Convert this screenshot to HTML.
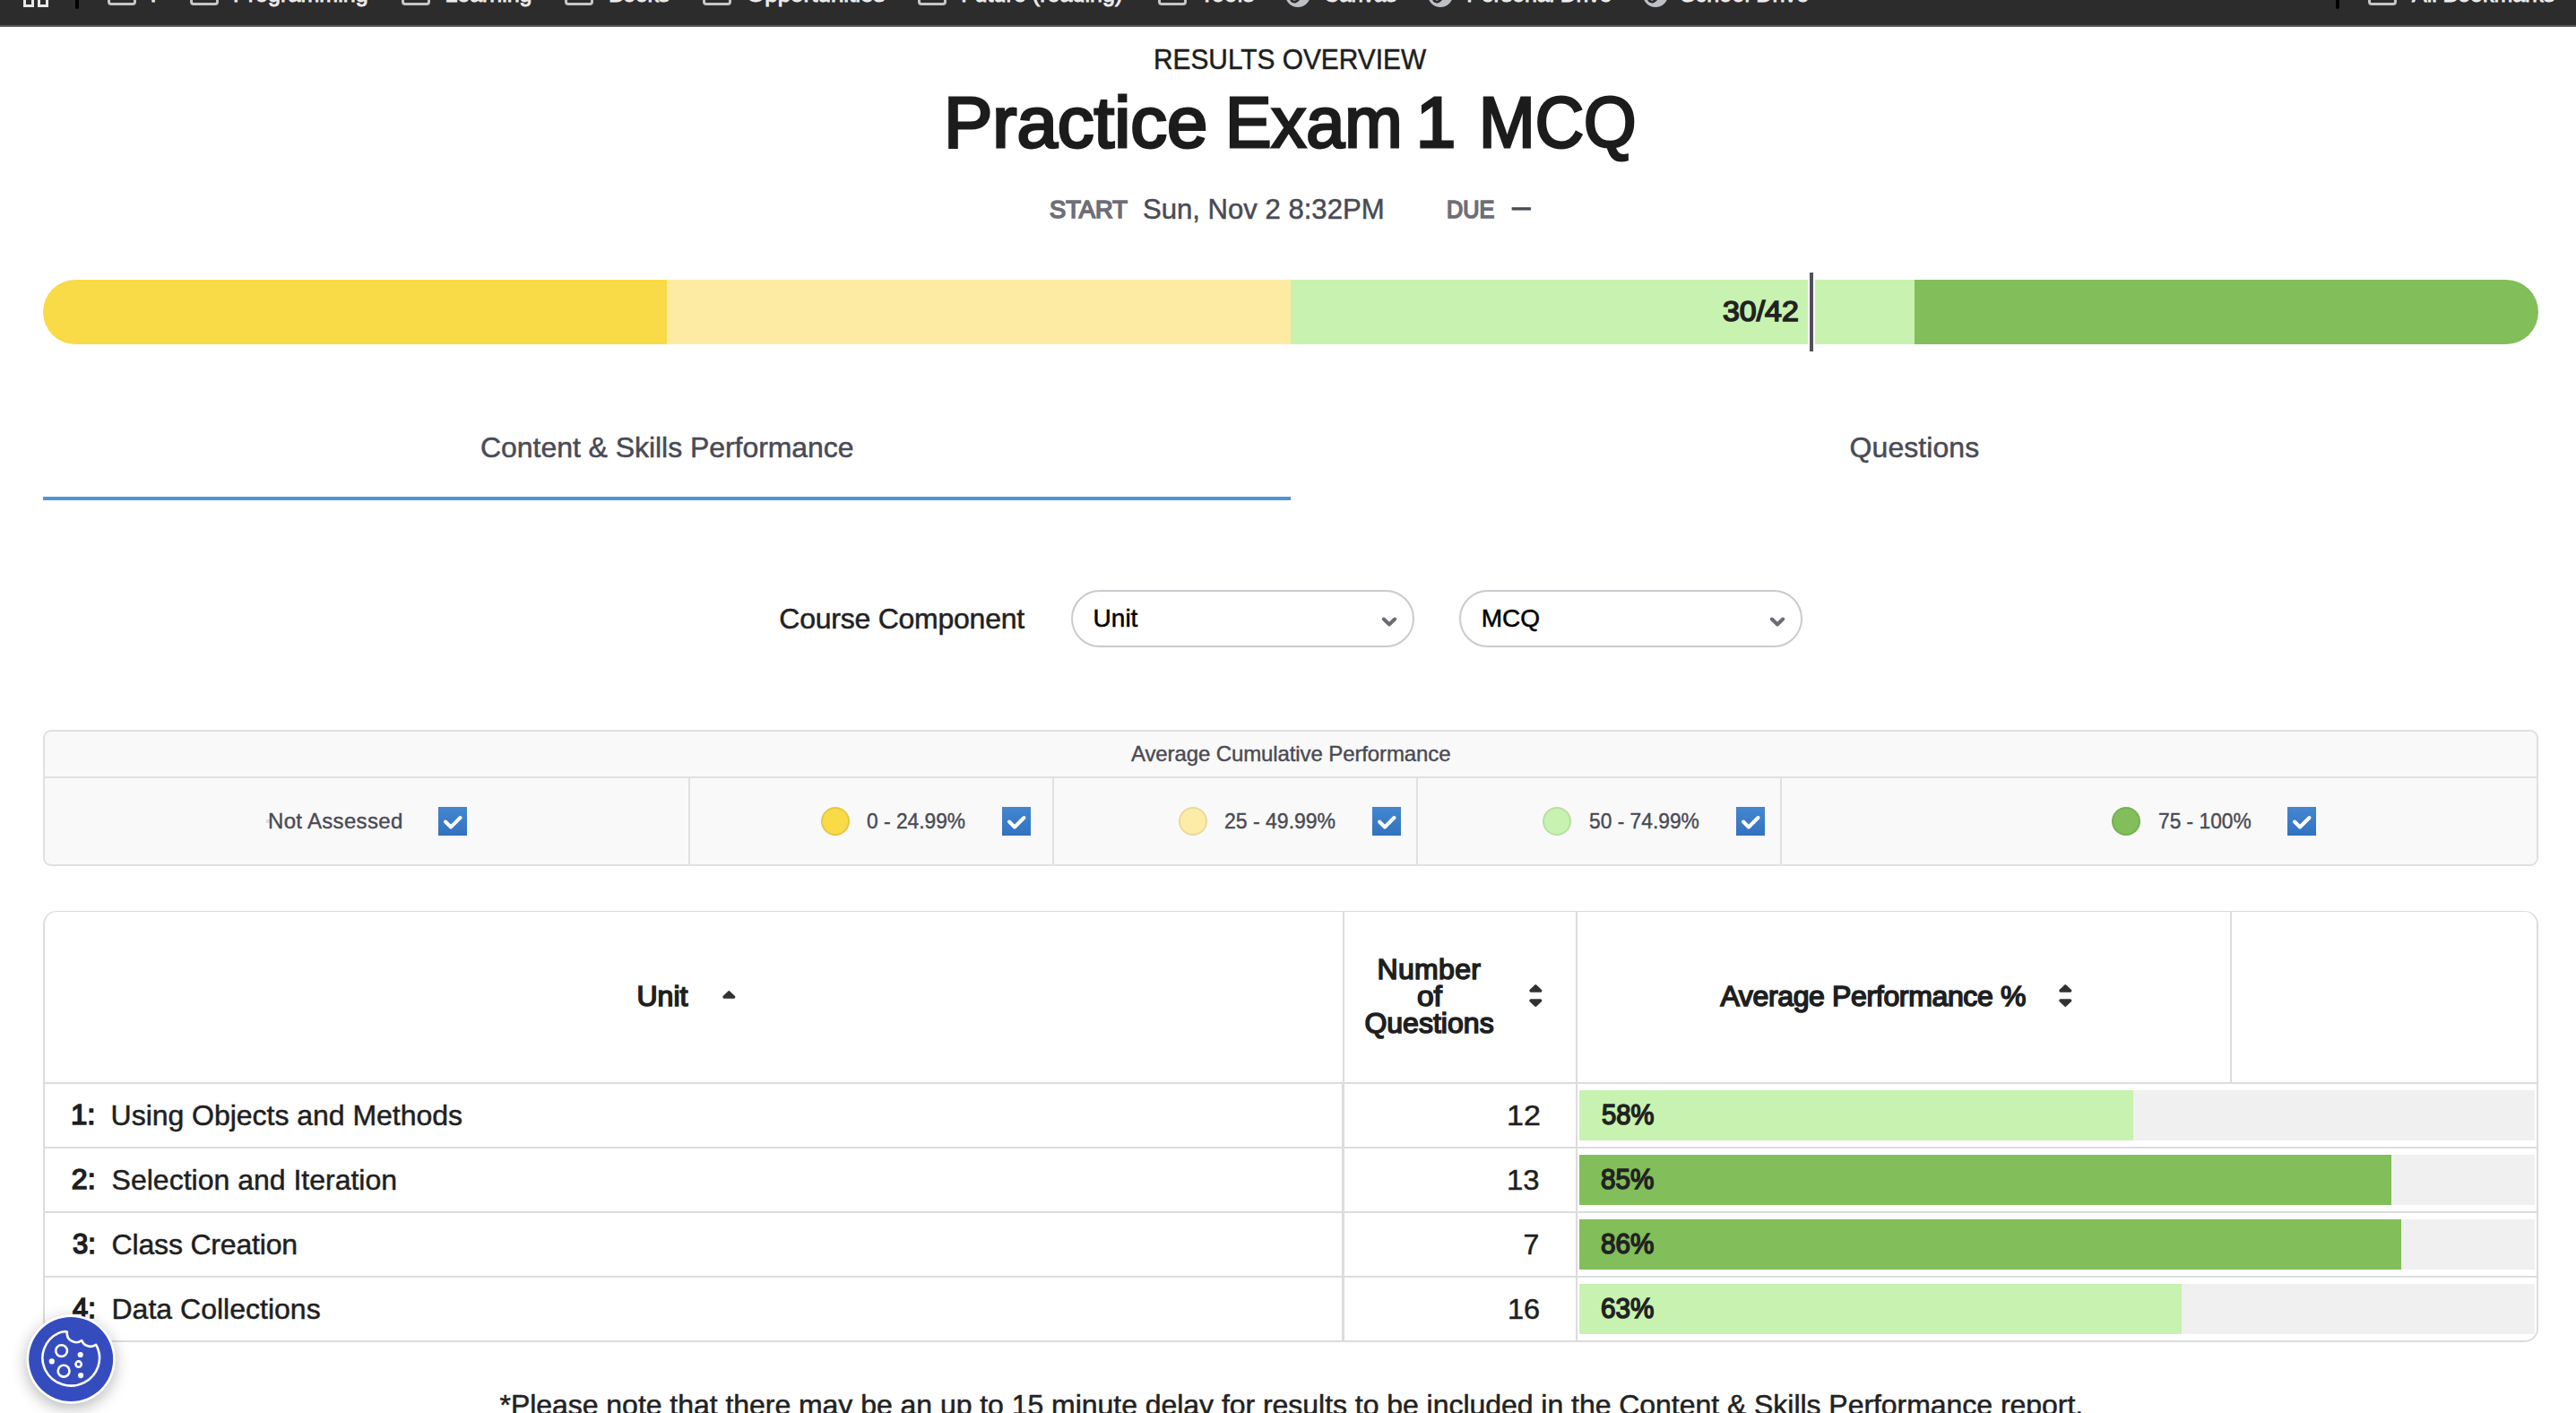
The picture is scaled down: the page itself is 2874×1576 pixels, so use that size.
<!DOCTYPE html>
<html lang="en">
<head>
<meta charset="utf-8">
<title>Practice Exam 1 MCQ - Results Overview</title>
<style>
*{box-sizing:border-box}
html,body{margin:0;padding:0}
@media (max-width:1600px){html{zoom:.5}}
h1,p,header,section,nav.w,table,thead,tbody,tr,th,td{margin:0;padding:0;border:0;font-weight:400;font-size:0;line-height:0}
table{border-collapse:collapse;border-spacing:0;width:0;height:0}
body{width:2874px;height:1576px;overflow:hidden;background:#fff;position:relative;font-family:"Liberation Sans",sans-serif}
.t{position:absolute;white-space:pre;line-height:1;transform-origin:0 0}
.abs{position:absolute}
#bar{left:0;top:0;width:2874px;height:30px;background:#2c2c2c;border-bottom:2px solid #585858;overflow:hidden}
#bar .fo{position:absolute;top:-20px;width:32px;height:26px;border:3px solid #c6c6c6;border-radius:4px}
#bar .gl{position:absolute;top:-20px;width:28px;height:28px;background:#bdc0c7;border-radius:50%}
#bar .gl i{position:absolute;left:5px;top:2px;width:14px;height:22px;border-radius:50%;border:3px solid #2c2c2c;border-left-color:transparent;border-top-color:transparent;transform:rotate(20deg)}
#bar .sep{position:absolute;top:-10px;width:4px;height:20px;background:#000;border-radius:2px}
#prog{left:48px;top:312px;width:2784px;height:72px;border-radius:36px;overflow:hidden;display:flex}
#prog i{display:block;flex:1 1 25%;height:72px}
#marker{left:2017px;top:304px;width:8px;height:88px;background:#fff}
#marker i{position:absolute;left:2px;top:0;width:4px;height:88px;background:#505058}
#tabline{left:48px;top:554px;width:1392px;height:4px;background:#4f95d5}
.sel{top:658px;width:383px;height:64px;border:2px solid #cacad0;border-radius:32px;background:#fff}
.sel svg{position:absolute;right:16.85px;top:27.5px}
#legend{left:48px;top:814px;width:2784px;height:152px;border:2px solid #e0e0e4;border-radius:9px;background:#f9f9f9}
#legend .hl{position:absolute;left:0;top:50px;width:2780px;height:2px;background:#e0e0e4}
#legend .vl{position:absolute;top:52px;width:2px;height:96px;background:#e0e0e4}
.dot{position:absolute;top:900px;width:32px;height:32px;border-radius:50%;border:2px solid rgba(0,0,0,.08)}
.cb{position:absolute;top:900px;width:32px;height:32px;background:linear-gradient(#4486d0,#3272bf)}
.cb svg{position:absolute;left:0;top:0}
#table{left:48px;top:1016px;width:2784px;height:481px;border:2px solid #dcdcdc;border-top-width:1px;border-radius:15px;background:#fff}
.hline{position:absolute;left:50px;width:2780px;height:2px;background:#dcdcdc}
.vline{position:absolute;width:2px;background:#dcdcdc}
.track{position:absolute;left:1762px;width:1066px;height:56px;background:#f0f0f0}
.track i{display:block;height:56px}
#cookie{left:30px;top:1467px;width:98px;height:98px;border-radius:50%;background:#fff;box-shadow:0 5px 18px rgba(0,0,0,.3)}
</style>
</head>
<body>
<nav id="bar" class="abs" aria-label="Bookmarks">
<div class="abs" style="left:26px;top:-6px;width:12px;height:14px;border:3px solid #e8e8e8"></div>
<div class="abs" style="left:42px;top:-6px;width:12px;height:14px;border:3px solid #e8e8e8"></div>
<div class="sep" style="left:84px"></div>
<div class="fo" style="left:120px"></div>
<span class="t" id="b0" style="left:164.5px;top:-19.4px;font-size:25px;color:#ececec;font-weight:400;-webkit-text-stroke:0.9px #ececec">?</span>
<div class="fo" style="left:212px"></div>
<span class="t" id="b1" style="left:260.0px;top:-19.4px;font-size:25px;letter-spacing:0.06px;color:#ececec;font-weight:400;-webkit-text-stroke:0.9px #ececec">Programming</span>
<div class="fo" style="left:448px"></div>
<span class="t" id="b2" style="left:496.4px;top:-19.4px;font-size:25px;letter-spacing:-0.03px;color:#ececec;font-weight:400;-webkit-text-stroke:0.9px #ececec">Learning</span>
<div class="fo" style="left:630px"></div>
<span class="t" id="b3" style="left:679.0px;top:-19.4px;font-size:25px;letter-spacing:-0.35px;color:#ececec;font-weight:400;-webkit-text-stroke:0.9px #ececec">Books</span>
<div class="fo" style="left:784px"></div>
<span class="t" id="b4" style="left:832.5px;top:-19.4px;font-size:25px;color:#ececec;font-weight:400;transform:scaleX(1.0395);-webkit-text-stroke:0.9px #ececec">Opportunities</span>
<div class="fo" style="left:1024px"></div>
<span class="t" id="b5" style="left:1072.3px;top:-19.4px;font-size:25px;letter-spacing:0.05px;color:#ececec;font-weight:400;-webkit-text-stroke:0.9px #ececec">Future (reading)</span>
<div class="fo" style="left:1292px"></div>
<span class="t" id="b6" style="left:1339.0px;top:-19.4px;font-size:25px;letter-spacing:0.45px;color:#ececec;font-weight:400;-webkit-text-stroke:0.9px #ececec">Tools</span>
<div class="gl" style="left:1434px">
<i></i>
</div>
<span class="t" id="b7" style="left:1477.3px;top:-19.4px;font-size:25px;color:#ececec;font-weight:400;transform:scaleX(0.9578);-webkit-text-stroke:0.9px #ececec">Canvas</span>
<div class="gl" style="left:1593px">
<i></i>
</div>
<span class="t" id="b8" style="left:1636.3px;top:-19.4px;font-size:25px;letter-spacing:-0.14px;color:#ececec;font-weight:400;-webkit-text-stroke:0.9px #ececec">Personal Drive</span>
<div class="gl" style="left:1833px">
<i></i>
</div>
<span class="t" id="b9" style="left:1874.8px;top:-19.4px;font-size:25px;letter-spacing:0.15px;color:#ececec;font-weight:400;-webkit-text-stroke:0.9px #ececec">School Drive</span>
<div class="sep" style="left:2606px"></div>
<div class="fo" style="left:2642px"></div>
<span class="t" id="b10" style="left:2691.0px;top:-19.4px;font-size:25px;letter-spacing:-0.04px;color:#ececec;font-weight:400;-webkit-text-stroke:0.9px #ececec">All Bookmarks</span></nav>
<header>
<span class="t" id="ro" style="left:1287.1px;top:49.8px;font-size:32px;color:#1e1e1e;font-weight:400;transform:scaleX(0.9327);-webkit-text-stroke:0.5px #1e1e1e">RESULTS OVERVIEW</span>
<h1>
<span class="t" id="tw0" style="left:1052.9px;top:96.5px;font-size:80px;color:#1c1c1c;font-weight:400;transform:scaleX(1.0188);-webkit-text-stroke:3px #1c1c1c">Practice</span> <span class="t" id="tw1" style="left:1366.9px;top:96.5px;font-size:80px;color:#1c1c1c;font-weight:400;transform:scaleX(0.9663);-webkit-text-stroke:3px #1c1c1c">Exam</span> <span class="t" id="tw2" style="left:1579.8px;top:96.5px;font-size:80px;color:#1c1c1c;font-weight:400;-webkit-text-stroke:3px #1c1c1c">1</span> <span class="t" id="tw3" style="left:1650.2px;top:96.5px;font-size:80px;color:#1c1c1c;font-weight:400;transform:scaleX(0.9406);-webkit-text-stroke:3px #1c1c1c">MCQ</span>
</h1>
<p class="w">
<span class="t" id="start" style="left:1171.4px;top:219.9px;font-size:28px;color:#6e6e78;font-weight:400;transform:scaleX(0.9730);-webkit-text-stroke:1.7px #6e6e78">START</span> <span class="t" id="date" style="left:1275.0px;top:216.9px;font-size:32px;color:#4a4a54;font-weight:400;transform:scaleX(0.9715);-webkit-text-stroke:0.5px #4a4a54">Sun, Nov 2 8:32PM</span> <span class="t" id="due" style="left:1614.1px;top:219.9px;font-size:28px;color:#6e6e78;font-weight:400;transform:scaleX(0.9000);-webkit-text-stroke:1.7px #6e6e78">DUE</span> <span class="t" id="dash" style="left:1686.6px;top:213.7px;font-size:32px;color:#4a4a54;transform:scaleX(.64);-webkit-text-stroke:1.1px #4a4a54">—</span>
</p>
</header>
<section class="w" aria-label="Score">
<div id="prog" class="abs">
<i style="background:#f9da47"></i>
<i style="background:#fdeba3"></i>
<i style="background:#c8f2b0"></i>
<i style="background:#82be5a"></i>
</div>
<div id="marker" class="abs">
<i></i>
</div>
<span class="t" id="score" style="left:1922.2px;top:331.3px;font-size:32px;color:#222;font-weight:400;transform:scaleX(1.0582);-webkit-text-stroke:1.6px #222">30/42</span></section>
<nav class="w" aria-label="Report tabs">
<span class="t" id="tab1" style="left:536.0px;top:483.0px;font-size:32px;letter-spacing:-0.05px;color:#4a4a54;font-weight:400;-webkit-text-stroke:0.5px #4a4a54">Content &amp; Skills Performance</span> <span class="t" id="tab2" style="left:2063.6px;top:483.0px;font-size:32px;letter-spacing:0.06px;color:#4a4a54;font-weight:400;-webkit-text-stroke:0.5px #4a4a54">Questions</span>
<div id="tabline" class="abs"></div>
</nav>
<section class="w" aria-label="Filters">
<span class="t" id="cc" style="left:869.3px;top:674.3px;font-size:32px;letter-spacing:-0.24px;color:#222;font-weight:400;-webkit-text-stroke:0.5px #222">Course Component</span>
<div class="sel abs" style="left:1195px">
<svg width="18" height="12" viewBox="0 0 18 12">
<path d="M2.85 2.5 L9 8.5 L15.15 2.5" fill="none" stroke="#6c6c76" stroke-width="4" stroke-linecap="round" stroke-linejoin="round"/>
</svg></div>
<span class="t" id="sel1" style="left:1219.6px;top:675.7px;font-size:28px;color:#000;font-weight:400;-webkit-text-stroke:0.5px #000">Unit</span>
<div class="sel abs" style="left:1628px">
<svg width="18" height="12" viewBox="0 0 18 12">
<path d="M2.85 2.5 L9 8.5 L15.15 2.5" fill="none" stroke="#6c6c76" stroke-width="4" stroke-linecap="round" stroke-linejoin="round"/>
</svg></div>
<span class="t" id="sel2" style="left:1652.7px;top:676.0px;font-size:28px;color:#000;font-weight:400;-webkit-text-stroke:0.5px #000">MCQ</span></section>
<section class="w" aria-label="Legend">
<div id="legend" class="abs">
<div class="hl"></div>
<div class="vl" style="left:718px"></div>
<div class="vl" style="left:1124px"></div>
<div class="vl" style="left:1530px"></div>
<div class="vl" style="left:1936px"></div>
</div>
<span class="t" id="acp" style="left:1262.0px;top:828.5px;font-size:24px;letter-spacing:-0.11px;color:#4a4a54;font-weight:400;-webkit-text-stroke:0.4px #4a4a54">Average Cumulative Performance</span>
<div class="abs" style="left:297px;top:914px;width:4px;height:4px;background:#dcdcdc"></div>
<span class="t" id="na" style="left:299.0px;top:903.7px;font-size:24px;letter-spacing:0.32px;color:#4a4a54;font-weight:400;-webkit-text-stroke:0.4px #4a4a54">Not Assessed</span>
<div class="cb" style="left:489px">
<svg width="32" height="32" viewBox="0 0 32 32">
<path d="M8 16.5 L14 22.5 L24.5 12" fill="none" stroke="#fff" stroke-width="4" stroke-linecap="round" stroke-linejoin="round"/>
</svg></div>
<div class="dot" style="left:916px;background:#f9da47"></div>
<span class="t" id="l1" style="left:967.4px;top:903.7px;font-size:24px;color:#4a4a54;font-weight:400;transform:scaleX(0.9487);-webkit-text-stroke:0.4px #4a4a54">0 - 24.99%</span>
<div class="cb" style="left:1118px">
<svg width="32" height="32" viewBox="0 0 32 32">
<path d="M8 16.5 L14 22.5 L24.5 12" fill="none" stroke="#fff" stroke-width="4" stroke-linecap="round" stroke-linejoin="round"/>
</svg></div>
<div class="dot" style="left:1315px;background:#fdeca8"></div>
<span class="t" id="l2" style="left:1366.3px;top:903.7px;font-size:24px;color:#4a4a54;font-weight:400;transform:scaleX(0.9586);-webkit-text-stroke:0.4px #4a4a54">25 - 49.99%</span>
<div class="cb" style="left:1531px">
<svg width="32" height="32" viewBox="0 0 32 32">
<path d="M8 16.5 L14 22.5 L24.5 12" fill="none" stroke="#fff" stroke-width="4" stroke-linecap="round" stroke-linejoin="round"/>
</svg></div>
<div class="dot" style="left:1721px;background:#c8f2b0"></div>
<span class="t" id="l3" style="left:1773.4px;top:903.7px;font-size:24px;color:#4a4a54;font-weight:400;transform:scaleX(0.9492);-webkit-text-stroke:0.4px #4a4a54">50 - 74.99%</span>
<div class="cb" style="left:1937px">
<svg width="32" height="32" viewBox="0 0 32 32">
<path d="M8 16.5 L14 22.5 L24.5 12" fill="none" stroke="#fff" stroke-width="4" stroke-linecap="round" stroke-linejoin="round"/>
</svg></div>
<div class="dot" style="left:2356px;background:#82be5a"></div>
<span class="t" id="l4" style="left:2407.8px;top:903.7px;font-size:24px;color:#4a4a54;font-weight:400;transform:scaleX(0.9472);-webkit-text-stroke:0.4px #4a4a54">75 - 100%</span>
<div class="cb" style="left:2552px">
<svg width="32" height="32" viewBox="0 0 32 32">
<path d="M8 16.5 L14 22.5 L24.5 12" fill="none" stroke="#fff" stroke-width="4" stroke-linecap="round" stroke-linejoin="round"/>
</svg></div>
</section>
<div id="table" class="abs"></div>
<div class="hline" style="top:1207px"></div>
<div class="hline" style="top:1279px"></div>
<div class="hline" style="top:1351px"></div>
<div class="hline" style="top:1423px"></div>
<div class="vline" style="left:1498px;top:1017px;height:190px"></div>
<div class="vline" style="left:1497px;top:1209px;height:286px;width:3px"></div>
<div class="vline" style="left:1758px;top:1017px;height:478px"></div>
<div class="vline" style="left:2488px;top:1017px;height:190px"></div>
<table>
<thead>
<tr>
<th>
<span class="t" id="thu" style="left:710.5px;top:1095.4px;font-size:32px;color:#1f1f1f;font-weight:400;-webkit-text-stroke:1.6px #1f1f1f">Unit</span>
<svg class="abs" style="left:805.6px;top:1104.8px" width="15" height="9" viewBox="0 0 15 9">
<path d="M7.3 1.9 L12.6 7 L2 7 Z" fill="#323235" stroke="#323235" stroke-width="3.4" stroke-linejoin="round"/>
</svg></th>
<th>
<span class="t" id="thn1" style="left:1536.5px;top:1065.2px;font-size:32px;letter-spacing:0.34px;color:#1f1f1f;font-weight:400;-webkit-text-stroke:1.6px #1f1f1f">Number</span> <span class="t" id="thn2" style="left:1581.0px;top:1094.8px;font-size:32px;color:#1f1f1f;font-weight:400;transform:scaleX(1.0464);-webkit-text-stroke:1.6px #1f1f1f">of</span> <span class="t" id="thn3" style="left:1522.4px;top:1124.6px;font-size:32px;letter-spacing:0.02px;color:#1f1f1f;font-weight:400;-webkit-text-stroke:1.6px #1f1f1f">Questions</span>
<svg class="abs" style="left:1705.6px;top:1098px" width="15" height="9" viewBox="0 0 15 9">
<path d="M7.3 1.9 L12.6 7 L2 7 Z" fill="#323235" stroke="#323235" stroke-width="3.4" stroke-linejoin="round"/>
</svg>
<svg class="abs" style="left:1705.6px;top:1114.2px" width="15" height="9" viewBox="0 0 15 9">
<path d="M7.3 7.1 L12.6 2 L2 2 Z" fill="#323235" stroke="#323235" stroke-width="3.4" stroke-linejoin="round"/>
</svg></th>
<th>
<span class="t" id="tha" style="left:1919.4px;top:1095.2px;font-size:32px;letter-spacing:-0.35px;color:#1f1f1f;font-weight:400;-webkit-text-stroke:1.6px #1f1f1f">Average Performance %</span>
<svg class="abs" style="left:2296.6px;top:1098px" width="15" height="9" viewBox="0 0 15 9">
<path d="M7.3 1.9 L12.6 7 L2 7 Z" fill="#323235" stroke="#323235" stroke-width="3.4" stroke-linejoin="round"/>
</svg>
<svg class="abs" style="left:2296.6px;top:1114.2px" width="15" height="9" viewBox="0 0 15 9">
<path d="M7.3 7.1 L12.6 2 L2 2 Z" fill="#323235" stroke="#323235" stroke-width="3.4" stroke-linejoin="round"/>
</svg></th>
<th></th>
</tr>
</thead>
<tbody>
<tr>
<td>
<span class="t" id="n0" style="left:79.2px;top:1226.8px;font-size:32px;color:#1f1f1f;font-weight:400;transform:scaleX(1.0304);-webkit-text-stroke:1.6px #1f1f1f">1:</span> <span class="t" id="u0" style="left:123.6px;top:1227.8px;font-size:32px;letter-spacing:-0.03px;color:#1f1f1f;font-weight:400;-webkit-text-stroke:0.5px #1f1f1f">Using Objects and Methods</span></td>
<td>
<span class="t" id="c0" style="left:1681.4px;top:1227.8px;font-size:32px;color:#1f1f1f;font-weight:400;transform:scaleX(1.0625);-webkit-text-stroke:0.5px #1f1f1f">12</span></td>
<td colspan="2">
<div class="track" style="top:1216px">
<i style="width:58%;background:#c8f2b0"></i>
</div>
<span class="t" id="p0" style="left:1787.1px;top:1226.8px;font-size:32px;color:#222;font-weight:400;transform:scaleX(0.9125);-webkit-text-stroke:1.6px #222">58%</span></td>
</tr>
<tr>
<td>
<span class="t" id="n1" style="left:79.8px;top:1298.8px;font-size:32px;letter-spacing:0.20px;color:#1f1f1f;font-weight:400;-webkit-text-stroke:1.6px #1f1f1f">2:</span> <span class="t" id="u1" style="left:124.6px;top:1299.8px;font-size:32px;color:#1f1f1f;font-weight:400;-webkit-text-stroke:0.5px #1f1f1f">Selection and Iteration</span></td>
<td>
<span class="t" id="c1" style="left:1681.4px;top:1299.8px;font-size:32px;color:#1f1f1f;font-weight:400;transform:scaleX(1.0281);-webkit-text-stroke:0.5px #1f1f1f">13</span></td>
<td colspan="2">
<div class="track" style="top:1288px">
<i style="width:85%;background:#82be5a"></i>
</div>
<span class="t" id="p1" style="left:1786.2px;top:1298.8px;font-size:32px;color:#222;font-weight:400;transform:scaleX(0.9270);-webkit-text-stroke:1.6px #222">85%</span></td>
</tr>
<tr>
<td>
<span class="t" id="n2" style="left:80.8px;top:1370.8px;font-size:32px;color:#1f1f1f;font-weight:400;transform:scaleX(0.9680);-webkit-text-stroke:1.6px #1f1f1f">3:</span> <span class="t" id="u2" style="left:124.6px;top:1371.8px;font-size:32px;letter-spacing:-0.18px;color:#1f1f1f;font-weight:400;-webkit-text-stroke:0.5px #1f1f1f">Class Creation</span></td>
<td>
<span class="t" id="c2" style="left:1699.5px;top:1371.8px;font-size:32px;color:#1f1f1f;font-weight:400;-webkit-text-stroke:0.5px #1f1f1f">7</span></td>
<td colspan="2">
<div class="track" style="top:1360px">
<i style="width:86%;background:#82be5a"></i>
</div>
<span class="t" id="p2" style="left:1786.2px;top:1370.8px;font-size:32px;color:#222;font-weight:400;transform:scaleX(0.9270);-webkit-text-stroke:1.6px #222">86%</span></td>
</tr>
<tr>
<td>
<span class="t" id="n3" style="left:80.8px;top:1442.8px;font-size:32px;color:#1f1f1f;font-weight:400;transform:scaleX(0.9680);-webkit-text-stroke:1.6px #1f1f1f">4:</span> <span class="t" id="u3" style="left:124.5px;top:1443.8px;font-size:32px;letter-spacing:0.01px;color:#1f1f1f;font-weight:400;-webkit-text-stroke:0.5px #1f1f1f">Data Collections</span></td>
<td>
<span class="t" id="c3" style="left:1681.5px;top:1443.8px;font-size:32px;color:#1f1f1f;font-weight:400;transform:scaleX(1.0152);-webkit-text-stroke:0.5px #1f1f1f">16</span></td>
<td colspan="2">
<div class="track" style="top:1432px">
<i style="width:63%;background:#c8f2b0"></i>
</div>
<span class="t" id="p3" style="left:1786.2px;top:1442.8px;font-size:32px;color:#222;font-weight:400;transform:scaleX(0.9270);-webkit-text-stroke:1.6px #222">63%</span></td>
</tr>
</tbody>
</table>
<p class="w">
<span class="t" id="foot" style="left:557.5px;top:1550.5px;font-size:32px;letter-spacing:-0.04px;color:#222;font-weight:400;-webkit-text-stroke:0.5px #222">*Please note that there may be an up to 15 minute delay for results to be included in the Content &amp; Skills Performance report.</span>
</p>
<div id="cookie" class="abs"></div>
<svg class="abs" style="left:29px;top:1466px" width="100" height="100" viewBox="0 0 100 100" fill="none" stroke="#fff" stroke-width="2.6" stroke-linecap="round" stroke-linejoin="round">
<circle cx="50.15" cy="50" r="49.7" fill="#fff" stroke="none"/>
<circle cx="50.15" cy="50" r="47" fill="#354cbf" stroke="none"/>
<path d="M78.10 33.80 A31.8 30.9 0 1 1 36.81 20.60 Q42.00 18.60 45.90 19.40 A10.2 10.2 0 0 0 62.20 29.00 A10.4 10.4 0 0 0 78.10 33.80 Z"/>
<circle cx="39.60" cy="40.6" r="6.4"/>
<circle cx="42.10" cy="63.2" r="6.4"/>
<circle cx="58.65" cy="55.55" r="3.15"/>
<circle cx="28.80" cy="52.4" r="3.1" fill="#fff" stroke="none"/>
<circle cx="60.70" cy="45" r="3.1" fill="#fff" stroke="none"/>
<circle cx="61.10" cy="68.05" r="3.1" fill="#fff" stroke="none"/>
</svg>
</body>
</html>
